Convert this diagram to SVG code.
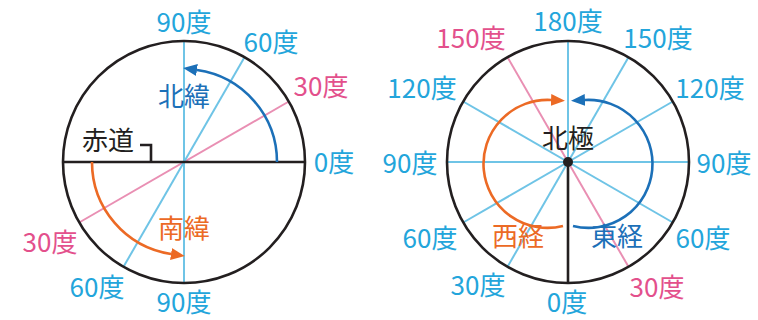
<svg xmlns="http://www.w3.org/2000/svg" width="758" height="320" viewBox="0 0 758 320">
<style>
.bg{fill:#ffffff}
.lb{stroke:#6fc4e6;stroke-width:2;fill:none}
.lp{stroke:#e98fb3;stroke-width:2;fill:none}
.k{stroke:#231f20;stroke-width:2.6;fill:none}
.ao{stroke:#ec6a25;stroke-width:2.6;fill:none}
.ab{stroke:#1c70b8;stroke-width:2.6;fill:none}
text{font-family:"Noto Sans CJK JP","Noto Sans",sans-serif;font-size:26px;text-anchor:middle}
.tb{fill:#23a5db}
.tp{fill:#e3508c}
.tk{fill:#231f20}
.to{fill:#ec6a25}
.td{fill:#1c70b8}
</style>
<defs>
<marker id="mo" markerUnits="userSpaceOnUse" markerWidth="14" markerHeight="12" refX="0" refY="6" orient="auto"><path d="M0,0 L14,6 L0,12 z" fill="#ec6a25"/></marker>
<marker id="mb" markerUnits="userSpaceOnUse" markerWidth="14" markerHeight="12" refX="0" refY="6" orient="auto"><path d="M0,0 L14,6 L0,12 z" fill="#1c70b8"/></marker>
</defs>
<rect class="bg" x="0" y="0" width="758" height="320"/>

<g id="latitude">
<g id="lat-lines">
<line class="lp" x1="288.8" y1="101.5" x2="79.2" y2="222.5"/>
<line class="lb" x1="244.5" y1="57.2" x2="123.5" y2="266.8"/>
<line class="lb" x1="184" y1="41" x2="184" y2="283"/>
<line class="k" x1="63" y1="162" x2="305" y2="162"/>
<circle class="k" cx="184" cy="162" r="121"/>
<polyline class="k" stroke-width="1.6" points="140,145 151,145 151,162"/>
</g>
<g id="lat-arrows">
<path class="ab" d="M277,162 A93,93 0 0 0 197,70" marker-end="url(#mb)"/>
<path class="ao" d="M92,162 A93,93 0 0 0 171,254" marker-end="url(#mo)"/>
</g>
<g id="lat-labels">
<text class="tb" x="184" y="32">90度</text>
<text class="tb" x="271" y="52">60度</text>
<text class="tp" x="321" y="96">30度</text>
<text class="tb" x="334" y="172">0度</text>
<text class="tp" x="50" y="252">30度</text>
<text class="tb" x="97" y="297">60度</text>
<text class="tb" x="184" y="312">90度</text>
<text class="td" x="184" y="106">北緯</text>
<text class="to" x="184" y="238">南緯</text>
<text class="tk" x="108" y="150">赤道</text>
</g>
</g>

<g id="longitude">
<g id="lon-lines">
<line class="lb" x1="447" y1="162" x2="689" y2="162"/>
<line class="lb" x1="568" y1="41" x2="568" y2="162"/>
<line class="lb" x1="672.8" y1="222.5" x2="463.2" y2="101.5"/>
<line class="lb" x1="507.5" y1="266.8" x2="628.5" y2="57.2"/>
<line class="lb" x1="463.2" y1="222.5" x2="672.8" y2="101.5"/>
<line class="lp" x1="628.5" y1="266.8" x2="507.5" y2="57.2"/>
<line class="k" x1="568" y1="162" x2="568" y2="283"/>
<circle class="k" cx="568" cy="162" r="121"/>
</g>
<g id="lon-arrows">
<path class="ao" d="M563,226 A64,64 0 1 1 551,100" marker-end="url(#mo)"/>
<path class="ab" d="M573,226 A64,64 0 1 0 585,100" marker-end="url(#mb)"/>
</g>
<circle id="north-pole" cx="568" cy="162" r="5" fill="#231f20"/>
<g id="lon-labels">
<text class="tb" x="568" y="31">180度</text>
<text class="tb" x="658" y="48">150度</text>
<text class="tp" x="471" y="48">150度</text>
<text class="tb" x="422" y="98">120度</text>
<text class="tb" x="710" y="98">120度</text>
<text class="tb" x="410" y="173">90度</text>
<text class="tb" x="724" y="173">90度</text>
<text class="tb" x="430" y="248">60度</text>
<text class="tb" x="703" y="248">60度</text>
<text class="tb" x="478" y="295">30度</text>
<text class="tp" x="657" y="297">30度</text>
<text class="tb" x="567" y="312">0度</text>
<text class="tk" x="568" y="148">北極</text>
<text class="to" x="518" y="246">西経</text>
<text class="td" x="617" y="246">東経</text>
</g>
</g>
</svg>
